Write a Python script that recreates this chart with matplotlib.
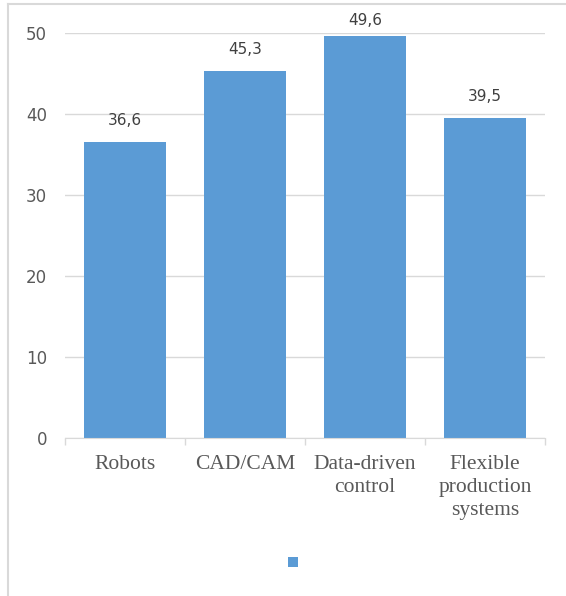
import matplotlib.pyplot as plt
from matplotlib.patches import Patch
from matplotlib.lines import Line2D

categories = ["Robots", "CAD/CAM", "Data-driven\ncontrol", "Flexible\nproduction\nsystems"]
values = [36.6, 45.3, 49.6, 39.5]
y_ticks = [0, 10, 20, 30, 40, 50]

BAR = "#5b9bd5"
GRID = "#d9d9d9"
TEXT = "#595959"

fig = plt.figure(figsize=(5.66, 5.96), dpi=100)
ax = fig.add_axes([0.1148, 0.265, 0.8482, 0.6796])

x = range(len(categories))
bars = ax.bar(x, values, width=0.69, color=BAR, zorder=2)

# value labels above the bars, pulled down a little near the top edge
label_cap = 48.85
for xi, v in zip(x, values):
    ax.annotate(f"{v:.1f}".replace(".", ","), (xi, min(v, label_cap)),
                xytext=(0, 10), textcoords="offset points", ha="center",
                va="bottom", fontsize=11, color="#404040",
                family="DejaVu Sans", annotation_clip=False)

ax.set_xlim(-0.5, len(categories) - 0.5)
ax.set_ylim(0, 50)
ax.set_yticks(y_ticks)
ax.yaxis.grid(True, color=GRID, linewidth=1, zorder=0)
ax.tick_params(axis="y", length=0, pad=13, labelsize=12, labelcolor=TEXT)
for lbl in ax.get_yticklabels():
    lbl.set_family("DejaVu Sans")

# category labels centred, ticks sit on the category boundaries
ax.set_xticks(list(x))
ax.set_xticklabels(categories, family="Liberation Serif", fontsize=15.5,
                   color=TEXT, linespacing=1.3)
ax.tick_params(axis="x", length=0, pad=12)
ax.set_xticks([i - 0.5 for i in range(len(categories) + 1)], minor=True)
ax.tick_params(axis="x", which="minor", length=5, color=GRID, width=1)

for side in ["top", "right", "left"]:
    ax.spines[side].set_visible(False)
ax.spines["bottom"].set_color(GRID)
ax.spines["bottom"].set_zorder(3)

fig.legend(handles=[Patch(facecolor=BAR)], labels=[""], loc="center",
           bbox_to_anchor=(293 / 566, 1 - 563 / 596), frameon=False,
           handlelength=0.75, handleheight=0.75, handletextpad=0)

# outer chart frame
fig.add_artist(Line2D([8 / 566, 1], [1 - 4 / 596, 1 - 4 / 596], color=GRID,
                      linewidth=1.5, transform=fig.transFigure))
fig.add_artist(Line2D([8 / 566, 8 / 566], [0, 1 - 4 / 596], color=GRID,
                      linewidth=1.5, transform=fig.transFigure))

fig.savefig("out.png", dpi=100)
